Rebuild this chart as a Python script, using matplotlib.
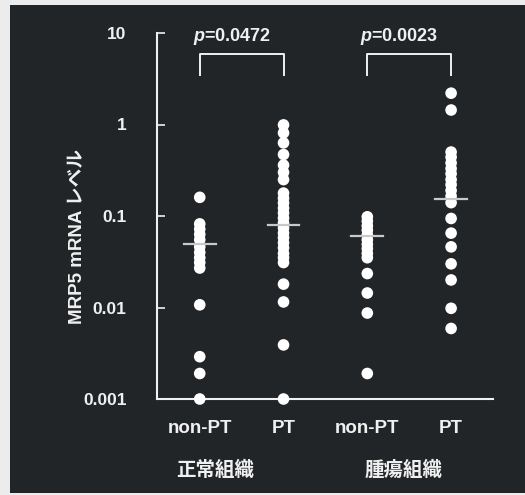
"""MRP5 mRNA levels: non-PT vs PT in normal and tumour tissue (dot plot)."""

import matplotlib.pyplot as plt
from matplotlib.patches import Rectangle
from matplotlib.transforms import blended_transform_factory

plt.rcParams["font.family"] = ["Liberation Sans", "Noto Sans CJK JP"]
plt.rcParams["font.weight"] = "bold"
plt.rcParams["mathtext.fontset"] = "custom"
plt.rcParams["mathtext.rm"] = "Liberation Sans:bold"
plt.rcParams["mathtext.it"] = "Liberation Sans:italic:bold"

group_labels = ["non-PT", "PT", "non-PT", "PT"]
tissue_labels = ["正常組織", "腫瘍組織"]
y_ticks = [0.001, 0.01, 0.1, 1, 10]
y_tick_labels = ["0.001", "0.01", "0.1", "1", "10"]

normal_nonpt = [0.16, 0.082, 0.072, 0.063, 0.055, 0.046, 0.04, 0.035,
                0.031, 0.027, 0.0107, 0.0029, 0.0019, 0.001]
normal_pt = [0.99, 0.81, 0.63, 0.47, 0.36, 0.30, 0.25,
             0.178, 0.157, 0.139, 0.122, 0.108, 0.095, 0.084, 0.074,
             0.065, 0.058, 0.051, 0.045, 0.039, 0.035, 0.031,
             0.018, 0.0115, 0.0039, 0.001]
tumor_nonpt = [0.098, 0.088, 0.078, 0.070, 0.062, 0.055, 0.049, 0.044,
               0.039, 0.035, 0.0235, 0.0144, 0.0087, 0.0019]
tumor_pt = [2.2, 1.44, 0.50, 0.44, 0.38, 0.33, 0.29, 0.25, 0.22, 0.19,
            0.165, 0.14, 0.094, 0.065, 0.046, 0.030, 0.020, 0.0098, 0.0059]
medians = [0.05, 0.08, 0.061, 0.152]
p_values = ["0.0472", "0.0023"]

series = [normal_nonpt, normal_pt, tumor_nonpt, tumor_pt]
bg = "#212527"
fg = "#f0f0f0"

fig = plt.figure(figsize=(5.25, 4.95), dpi=100)
fig.patch.set_facecolor("#ececec")
fig.add_artist(Rectangle((10 / 525, 2 / 495), 1, 1 - 7 / 495,
                         transform=fig.transFigure, facecolor=bg,
                         edgecolor="none", zorder=-10))

ax = fig.add_axes([157 / 525, 96 / 495, 336 / 525, 366 / 495])
ax.set_facecolor("none")
ax.set_yscale("log")
ax.set_ylim(0.001, 10)
ax.set_xlim(0.49, 4.5)

for i, vals in enumerate(series):
    x = i + 1
    ax.scatter([x] * len(vals), vals, s=70, color="white", edgecolors="none",
               zorder=3, clip_on=False)
    ax.plot([x - 0.19, x + 0.19], [medians[i], medians[i]], color="#c9c9c9",
            lw=1.6, zorder=4)

# p-value brackets
for k, p in enumerate(p_values):
    x1, x2 = 2 * k + 1, 2 * k + 2
    ax.plot([x1, x1, x2, x2], [3.5, 5.9, 5.9, 3.5], color=fg, lw=1.4,
            clip_on=False)
    ax.text((x1 + x2) / 2 - 0.12, 7.0, f"$p$=" + p, color=fg, fontsize=13,
            ha="center", va="bottom")

for side in ["top", "right"]:
    ax.spines[side].set_visible(False)
for side in ["left", "bottom"]:
    ax.spines[side].set_color(fg)
    ax.spines[side].set_linewidth(1.5)

ax.set_yticks(y_ticks)
ax.set_yticklabels(y_tick_labels)
ax.minorticks_off()
ax.tick_params(axis="y", direction="in", length=6, width=1.2, colors=fg,
               labelsize=12.5, pad=22)
ax.set_xticks(range(1, 5))
ax.set_xticklabels(group_labels)
ax.tick_params(axis="x", length=0, colors=fg, labelsize=13.5, pad=15)

ax.text(-0.235, 0.443, "MRP5 mRNA レベル", transform=ax.transAxes,
        rotation=90, ha="center", va="center", color=fg, fontsize=13.5)

trans = blended_transform_factory(ax.transData, ax.transAxes)
for x, label in zip([1.18, 3.43], tissue_labels):
    ax.text(x, -0.194, label, transform=trans, ha="center", va="center",
            color=fg, fontsize=14, family=["Noto Sans CJK JP"],
            fontweight="bold")

fig.savefig("out.png", dpi=100, facecolor=fig.get_facecolor())
